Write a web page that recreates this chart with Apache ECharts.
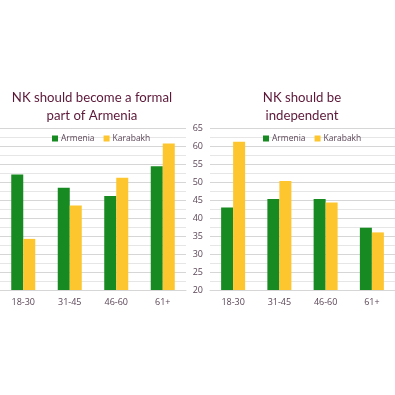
<!DOCTYPE html>
<html><head><meta charset="utf-8">
<script src="https://cdn.jsdelivr.net/npm/echarts@6/dist/echarts.min.js"></script>
<style>html,body{margin:0;padding:0;background:#fff}#c{width:395px;height:395px}</style>
</head><body><div id="c"></div>
<script>
const categories = ['18-30', '31-45', '46-60', '61+'];
const seriesNames = ['Armenia', 'Karabakh'];
const formalArmenia = [52.1, 48.4, 46.1, 54.4];
const formalKarabakh = [34.2, 43.5, 51.2, 60.7];
const indepArmenia = [42.9, 45.3, 45.3, 37.3];
const indepKarabakh = [61.2, 50.3, 44.3, 36.0];
const yTicks = [20, 25, 30, 35, 40, 45, 50, 55, 60, 65];
const titles = ['NK should become a formal\npart of Armenia', 'NK should be\nindependent'];

const green = '#178a21', yellow = '#fdc52e';
const labelColor = '#5b4657';
const chart = echarts.init(document.getElementById('c'));
const yAxisBase = (idx, showLabels) => ({
  type: 'value', gridIndex: idx, min: yTicks[0], max: yTicks[yTicks.length - 1], interval: 5,
  axisLine: {show: false}, axisTick: {show: false},
  axisLabel: {show: showLabels, color: labelColor, fontSize: 9, fontFamily: 'Open Sans', margin: 7},
  splitLine: {show: true, lineStyle: {color: '#d6d6d6', width: 1}},
  minorTick: {show: false, splitNumber: 2},
  minorSplitLine: {show: true, lineStyle: {color: '#e6e6e6', width: 1}}
});
const xAxisBase = (idx) => ({
  type: 'category', gridIndex: idx, data: categories,
  axisLine: {show: true, lineStyle: {color: '#d6d6d6'}}, axisTick: {show: false},
  axisLabel: {color: labelColor, fontSize: 9, fontFamily: 'Open Sans', margin: 8}
});
const barSeries = (name, data, idx, color) => ({
  name, type: 'bar', data, xAxisIndex: idx, yAxisIndex: idx,
  barWidth: 12, barGap: '0%', itemStyle: {color}, animation: false
});
const titleStyle = {color: '#5c1838', fontSize: 13.2, fontWeight: 'normal', fontFamily: 'Lato', lineHeight: 18};
chart.setOption({
  animation: false,
  title: [
    {text: titles[0], left: 87, top: 84, textAlign: 'center', textStyle: titleStyle},
    {text: titles[1], left: 297, top: 84, textAlign: 'center', textStyle: titleStyle}
  ],
  legend: [
    {data: seriesNames, left: 47, top: 129, itemWidth: 6, itemHeight: 6, itemGap: 9, icon: 'rect',
     textStyle: {color: labelColor, fontSize: 8.5, fontFamily: 'Open Sans', padding: [0, 0, 0, -2]}},
    {data: seriesNames, left: 258, top: 129, itemWidth: 6, itemHeight: 6, itemGap: 9, icon: 'rect',
     textStyle: {color: labelColor, fontSize: 8.5, fontFamily: 'Open Sans', padding: [0, 0, 0, -2]}}
  ],
  grid: [
    {left: -1, width: 187, top: 128, height: 162},
    {left: 210, width: 188, top: 128, height: 162}
  ],
  xAxis: [xAxisBase(0), xAxisBase(1)],
  yAxis: [yAxisBase(0, false), yAxisBase(1, true)],
  series: [
    barSeries(seriesNames[0], formalArmenia, 0, green),
    barSeries(seriesNames[1], formalKarabakh, 0, yellow),
    barSeries(seriesNames[0], indepArmenia, 1, green),
    barSeries(seriesNames[1], indepKarabakh, 1, yellow)
  ]
});
</script></body></html>
